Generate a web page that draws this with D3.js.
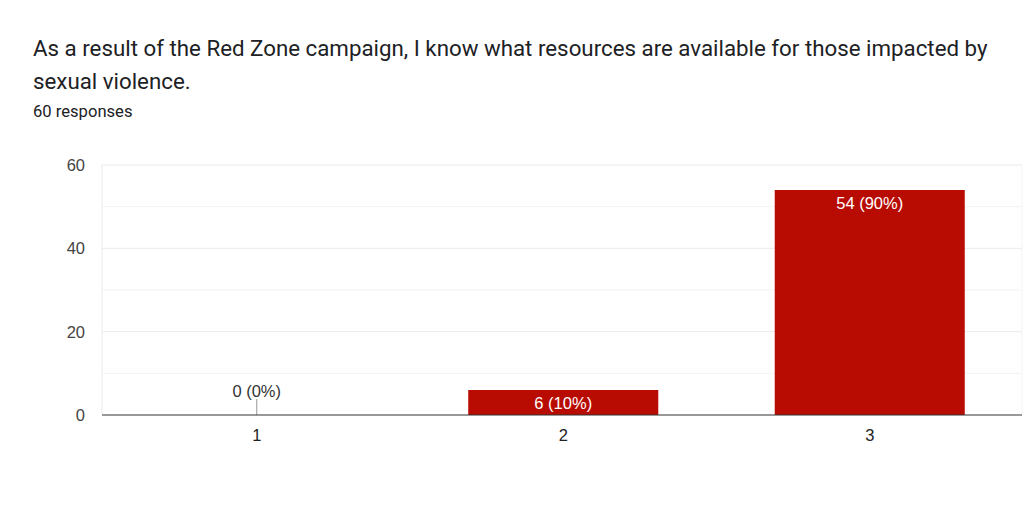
<!DOCTYPE html>
<html><head><meta charset="utf-8">
<script src="https://cdn.jsdelivr.net/npm/d3@7/dist/d3.min.js"></script>
<style>body{margin:0;background:#fff;}svg{display:block;font-family:Roboto,sans-serif;}</style>
</head><body><svg id="c" width="1024" height="520"></svg>
<script>
const titleLines = ["As a result of the Red Zone campaign, I know what resources are available for those impacted by", "sexual violence."];
const subtitle = "60 responses";
const categories = ["1", "2", "3"];
const counts = [0, 6, 54];
const labels = ["0 (0%)", "6 (10%)", "54 (90%)"];
const majorTicks = [0, 20, 40, 60];
const minorTicks = [10, 30, 50];

const svg = d3.select("#c");
const m = {left: 102, right: 1022, top: 165, bottom: 415};
const x = d3.scaleBand().domain(categories).range([103.5, 1023]).paddingInner(0.38).paddingOuter(0.19);
const y = d3.scaleLinear().domain([0, 60]).range([m.bottom, m.top]);
const chartFont = "'Liberation Sans', Arial, sans-serif";

svg.selectAll("text.title").data(titleLines).join("text").attr("class","title")
  .attr("x", 33).attr("y", (d,i)=> 56 + i*33).attr("font-size", 22.3).attr("fill", "#202124").text(d=>d);
svg.append("text").attr("x", 33).attr("y", 117).attr("font-size", 16.6).attr("fill", "#202124").text(subtitle);

// gridlines
svg.selectAll("line.minor").data(minorTicks).join("line").attr("class","minor")
  .attr("x1", m.left).attr("x2", m.right).attr("y1", d=>y(d)).attr("y2", d=>y(d)).attr("stroke", "#f3f3f3");
svg.selectAll("line.major").data(majorTicks.filter(d=>d>0)).join("line").attr("class","major")
  .attr("x1", m.left).attr("x2", m.right).attr("y1", d=>y(d)).attr("y2", d=>y(d)).attr("stroke", "#ebebeb");
svg.append("line").attr("x1", m.left).attr("x2", m.left).attr("y1", m.top).attr("y2", m.bottom).attr("stroke", "#ebebeb");
svg.append("line").attr("x1", m.right).attr("x2", m.right).attr("y1", m.top).attr("y2", m.bottom).attr("stroke", "#f3f3f3");

// y labels
svg.selectAll("text.yt").data(majorTicks).join("text").attr("class","yt")
  .attr("x", 85).attr("y", d=>y(d)+6).attr("text-anchor","end").attr("font-family", chartFont)
  .attr("font-size", 16.5).attr("fill", "#444").text(d=>d);

// bars
svg.selectAll("rect.bar").data(categories).join("rect").attr("class","bar")
  .attr("x", d=>x(d)).attr("width", x.bandwidth())
  .attr("y", (d,i)=>y(counts[i])).attr("height", (d,i)=>y(0)-y(counts[i]))
  .attr("fill", "#b80c03");

// bar labels
categories.forEach((c,i)=>{
  const cx = x(c) + x.bandwidth()/2;
  if (counts[i] === 0) {
    svg.append("line").attr("x1", cx).attr("x2", cx).attr("y1", y(0)-16).attr("y2", y(0)).attr("stroke", "#999");
    svg.append("text").attr("x", cx).attr("y", y(0)-18).attr("text-anchor","middle").attr("font-family", chartFont)
      .attr("font-size", 16.5).attr("fill", "#333").text(labels[i]);
  } else {
    svg.append("text").attr("x", cx).attr("y", y(counts[i])+19).attr("text-anchor","middle").attr("font-family", chartFont)
      .attr("font-size", 16.5).attr("fill", "#fff").text(labels[i]);
  }
});

// baseline
svg.append("line").attr("x1", m.left).attr("x2", m.right).attr("y1", y(0)).attr("y2", y(0)).attr("stroke", "#333").attr("stroke-width", 1);

// x labels
svg.selectAll("text.xt").data(categories).join("text").attr("class","xt")
  .attr("x", d=>x(d)+x.bandwidth()/2).attr("y", 441).attr("text-anchor","middle").attr("font-family", chartFont)
  .attr("font-size", 16.5).attr("fill", "#222").text(d=>d);
</script></body></html>
